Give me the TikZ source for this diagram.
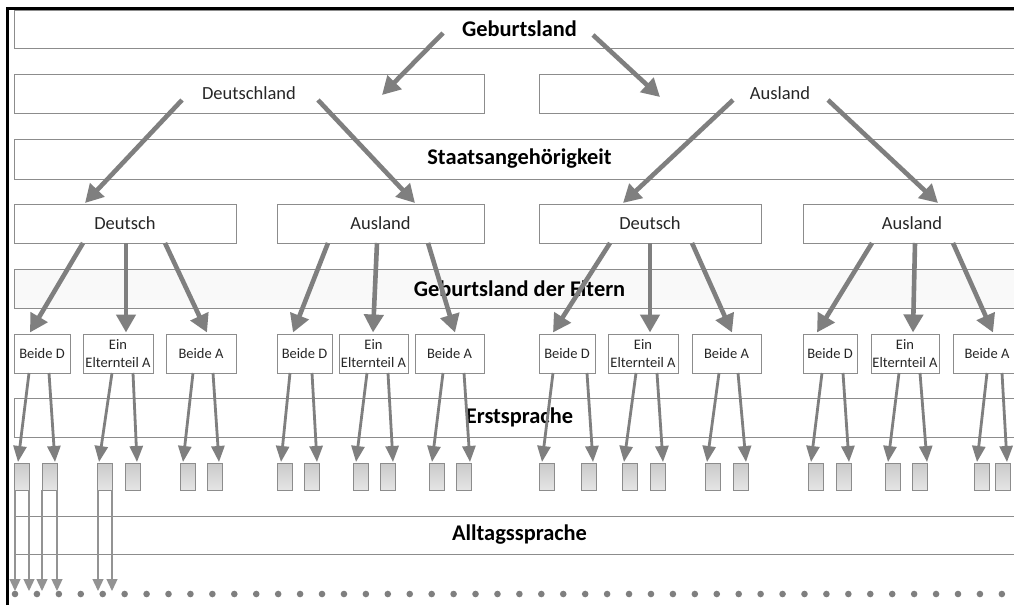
\documentclass[tikz,border=0pt]{standalone}
\usepackage{fontspec}
\setmainfont{Carlito}
\usetikzlibrary{arrows.meta}
\definecolor{arr}{HTML}{7F7F7F}
\definecolor{bord}{HTML}{8C8C8C}
\definecolor{txt}{HTML}{262626}
\definecolor{bandfill}{HTML}{F9F9F9}
\begin{document}
\begin{tikzpicture}[x=1pt,y=-1pt,
  box/.style={draw=bord,line width=0.9pt,fill=white,inner sep=0pt,outer sep=0pt,anchor=north west,
    text=txt,font=\fontsize{18.5}{21}\selectfont},
  sbox/.style={box,minimum height=39pt,align=center,font=\fontsize{14.5}{17.5}\selectfont},
  band/.style={box,minimum width=1011pt,text=black,font=\bfseries\fontsize{22.4}{25}\selectfont},
  gbox/.style={draw=bord,line width=0.9pt,top color=gray!42,bottom color=gray!20,inner sep=0pt,
    outer sep=0pt,anchor=north west,minimum width=15pt,minimum height=27pt},
  bigarr/.style={draw=arr,line width=4.6pt,-{Triangle[length=18pt,width=19pt]}},
  midarr/.style={draw=arr,line width=2.8pt,-{Triangle[length=16pt,width=13pt]}},
  thinarr/.style={draw=gray!85,line width=1.3pt,-{Triangle[length=12pt,width=11pt]}}]
\useasboundingbox (0,0) rectangle (1014,605);
\clip (0,0) rectangle (1014,605);
\fill[white] (0,0) rectangle (1014,605);

% bands
\node[band,minimum height=38pt] (b1) at (14,10) {Geburtsland};
\node[band,minimum height=40pt] (b2) at (14,139) {Staatsangehörigkeit};
\node[band,minimum height=39pt,fill=bandfill] (b3) at (14,269) {Geburtsland der Eltern};
\node[band,minimum height=39pt] (b4) at (14,398) {Erstsprache};
\node[band,minimum height=38pt] (b5) at (14,516) {Alltagssprache};

% row 2
\node[box,minimum width=470pt,minimum height=39pt] (r2a) at (14,74) {Deutschland};
\node[box,minimum width=482pt,minimum height=39pt] (r2b) at (539,74) {Ausland};

% row 4
\node[box,minimum width=222pt,minimum height=39pt] (r4a) at (14,204) {Deutsch};
\node[box,minimum width=207pt,minimum height=39pt] (r4b) at (277,204) {Ausland};
\node[box,minimum width=222pt,minimum height=39pt] (r4c) at (539,204) {Deutsch};
\node[box,minimum width=218pt,minimum height=39pt] (r4d) at (803,204) {Ausland};

% row 6
\node[sbox,minimum width=56pt] (s1) at (14,334) {Beide D};
\node[sbox,minimum width=70pt] (s2) at (83,334) {Ein\\Elternteil A};
\node[sbox,minimum width=70pt] (s3) at (166,334) {Beide A};
\node[sbox,minimum width=55pt] (s4) at (277,334) {Beide D};
\node[sbox,minimum width=69pt] (s5) at (339,334) {Ein\\Elternteil A};
\node[sbox,minimum width=69pt] (s6) at (415,334) {Beide A};
\node[sbox,minimum width=56pt] (s7) at (539,334) {Beide D};
\node[sbox,minimum width=70pt] (s8) at (608,334) {Ein\\Elternteil A};
\node[sbox,minimum width=69pt] (s9) at (692,334) {Beide A};
\node[sbox,minimum width=54pt] (s10) at (803,334) {Beide D};
\node[sbox,minimum width=68pt] (s11) at (871,334) {Ein\\Elternteil A};
\node[sbox,minimum width=68pt] (s12) at (953,334) {Beide A};

% gray boxes
\foreach \x [count=\i] in {14,42,97,125,180,207,277,304,353,380,429,456,539,581,622,650,705,733,808,836,885,912,974,995}
  \node[gbox] (g\i) at (\x,463) {};

% top arrows
\coordinate (t1s) at (443,33); \coordinate (t1e) at (382,95);
\coordinate (t2s) at (593,35); \coordinate (t2e) at (660,97);
\draw[bigarr] (t1s) -- (t1e);
\draw[bigarr] (t2s) -- (t2e);

% row 2 -> row 4
\foreach \sx/\ex [count=\i] in {182/85,318/415,733/623,828/938} {
  \coordinate (u\i s) at (\sx,100); \coordinate (u\i e) at (\ex,203);
  \draw[bigarr] (u\i s) -- (u\i e);
}

% row 4 -> row 6
\foreach \sx/\ex [count=\i] in {83/30,126/126,165/207,328/293,377/373,428/455,610/553,650/650,692/732,872/817,915/913,953/993} {
  \coordinate (v\i s) at (\sx,243); \coordinate (v\i e) at (\ex,332.5);
  \draw[bigarr] (v\i s) -- (v\i e);
}

% row 6 -> gray boxes
\foreach \sx/\ex [count=\i] in {29/18,49/55,112/99,133/137,193/183,213/219,290/281,312/317,367/356,388/393,443/432,464/470,553/542,587/593,636/624,657/663,719/707,738/746,822/811,843/849,899/888,920/927,987/977,1002/1007} {
  \coordinate (w\i s) at (\sx,373); \coordinate (w\i e) at (\ex,462);
  \draw[midarr] (w\i s) -- (w\i e);
}

% gray boxes -> dots
\foreach \gb/\dx [count=\i] in {1/15,1/29,2/42,2/57,3/98,3/112} {
  \coordinate (z\i s) at (\dx,490); \coordinate (z\i e) at (\dx,591);
  \draw[thinarr] (z\i s) -- (z\i e);
}

% dots
\foreach \i in {0,...,45}
  \fill[arr] (15+21.93*\i,594) circle (3.3pt);

% frame
\draw[line width=2.5pt,black] (7.5,605) -- (7.5,8.5) -- (1014,8.5);
\end{tikzpicture}
\end{document}
